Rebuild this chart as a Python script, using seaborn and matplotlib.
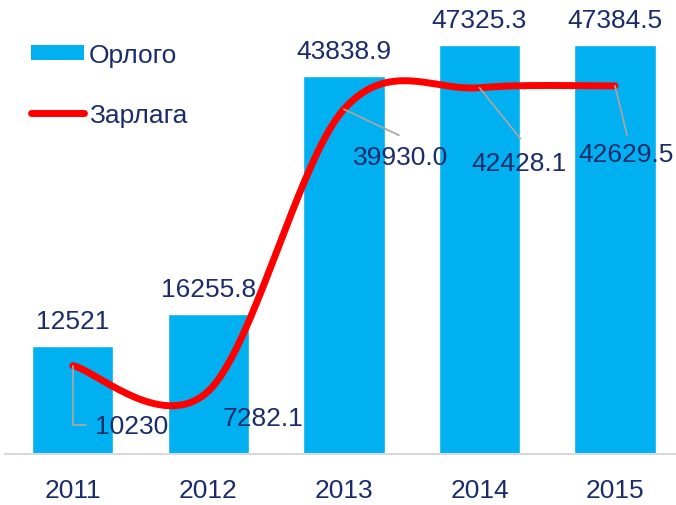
import matplotlib
matplotlib.use("Agg")
import matplotlib.pyplot as plt
import numpy as np
import seaborn as sns
import pandas as pd
from matplotlib.patches import Patch
from matplotlib.lines import Line2D

years = ["2011", "2012", "2013", "2014", "2015"]
orlogo = [12521, 16255.8, 43838.9, 47325.3, 47384.5]
zarlaga = [10230, 7282.1, 39930.0, 42428.1, 42629.5]
orlogo_labels = ["12521", "16255.8", "43838.9", "47325.3", "47384.5"]
zarlaga_labels = ["10230", "7282.1", "39930.0", "42428.1", "42629.5"]

BAR = "#00B0F0"
RED = "#FF0000"
NAVY = "#1B2C6B"
LEADER = "#A6A6A6"
FS = 19

sns.set_theme(style="white")
plt.rcParams['font.family'] = ['Liberation Sans', 'DejaVu Sans']


def smooth(xs, ys, n=40):
    # excel-like smoothed line (bezier, 1/6 tension)
    xs = np.asarray(xs, float)
    ys = np.asarray(ys, float)
    px = np.concatenate(([xs[0]], xs, [xs[-1]]))
    py = np.concatenate(([ys[0]], ys, [ys[-1]]))
    outx, outy = [], []
    t = np.linspace(0, 1, n)
    for i in range(1, len(px) - 2):
        p0 = np.array([px[i], py[i]])
        p3 = np.array([px[i + 1], py[i + 1]])
        c1 = p0 + (p3 - np.array([px[i - 1], py[i - 1]])) / 6
        c2 = p3 - (np.array([px[i + 2], py[i + 2]]) - p0) / 6
        pts = ((1 - t) ** 3)[:, None] * p0 + (3 * (1 - t) ** 2 * t)[:, None] * c1 \
            + (3 * (1 - t) * t ** 2)[:, None] * c2 + (t ** 3)[:, None] * p3
        outx.extend(pts[:, 0])
        outy.extend(pts[:, 1])
    return np.array(outx), np.array(outy)


fig = plt.figure(figsize=(6.76, 5.06), dpi=100)
ax = fig.add_axes([5 / 676, 51 / 506, 671 / 676, 455 / 506])

df = pd.DataFrame({"year": years, "orlogo": orlogo})
sns.barplot(data=df, x="year", y="orlogo", color=BAR, width=0.6, saturation=1, ax=ax)

pos = np.arange(len(years))
lx, ly = smooth(pos, zarlaga)
ax.plot(lx, ly, color=RED, lw=5, solid_capstyle="round", zorder=3)

ax.set_xlim(-0.5, 4.45)
ax.set_ylim(0, 52700)
ax.set_xlabel("")
ax.set_ylabel("")
ax.set_yticks([])
ax.tick_params(axis="x", length=0, labelsize=FS, labelcolor=NAVY, pad=17)
for s in ["top", "right", "left"]:
    ax.spines[s].set_visible(False)
ax.spines["bottom"].set_color("#D9D9D9")
ax.spines["bottom"].set_linewidth(1.5)

# bar value labels
for i, (v, lab) in enumerate(zip(orlogo, orlogo_labels)):
    ax.annotate(lab, (i, v), xytext=(0, 13), textcoords="offset pixels",
                ha="center", va="bottom", fontsize=FS, color=NAVY)

# line value labels with leader lines (offsets in pixels)
offs = [(59, -60), (55, -27), (57, -48), (40, -75), (11, -68)]
leaders = [[(0, 0), (0, -59), (13, -59)], None, [(0, 0), (55, -26)],
           [(0, 0), (41, -51)], [(0, 0), (12, -49)]]
for i, (v, lab) in enumerate(zip(zarlaga, zarlaga_labels)):
    dx, dy = offs[i]
    ax.annotate(lab, (i, v), xytext=(dx, dy), textcoords="offset pixels",
                ha="center", va="center", fontsize=FS, color=NAVY, zorder=5)
    if leaders[i] is not None:
        x0, y0 = ax.transData.transform((i, v))
        pts = np.array([(x0 + a, y0 + b) for a, b in leaders[i]])
        ax.plot(pts[:, 0], pts[:, 1], color=LEADER, lw=1.3, transform=None, zorder=4)

handles = [Patch(facecolor=BAR, edgecolor="none", label="Орлого"),
           Line2D([], [], color=RED, lw=5, solid_capstyle="round", label="Зарлага")]
fig.legend(handles=handles, loc="upper left", bbox_to_anchor=(31 / 676, 1 - 44 / 506),
           frameon=False, fontsize=FS, labelcolor=NAVY, handlelength=2.0,
           handleheight=0.52, handletextpad=0.2, labelspacing=1.35,
           borderpad=0, borderaxespad=0)

fig.savefig("out.png", dpi=100)
